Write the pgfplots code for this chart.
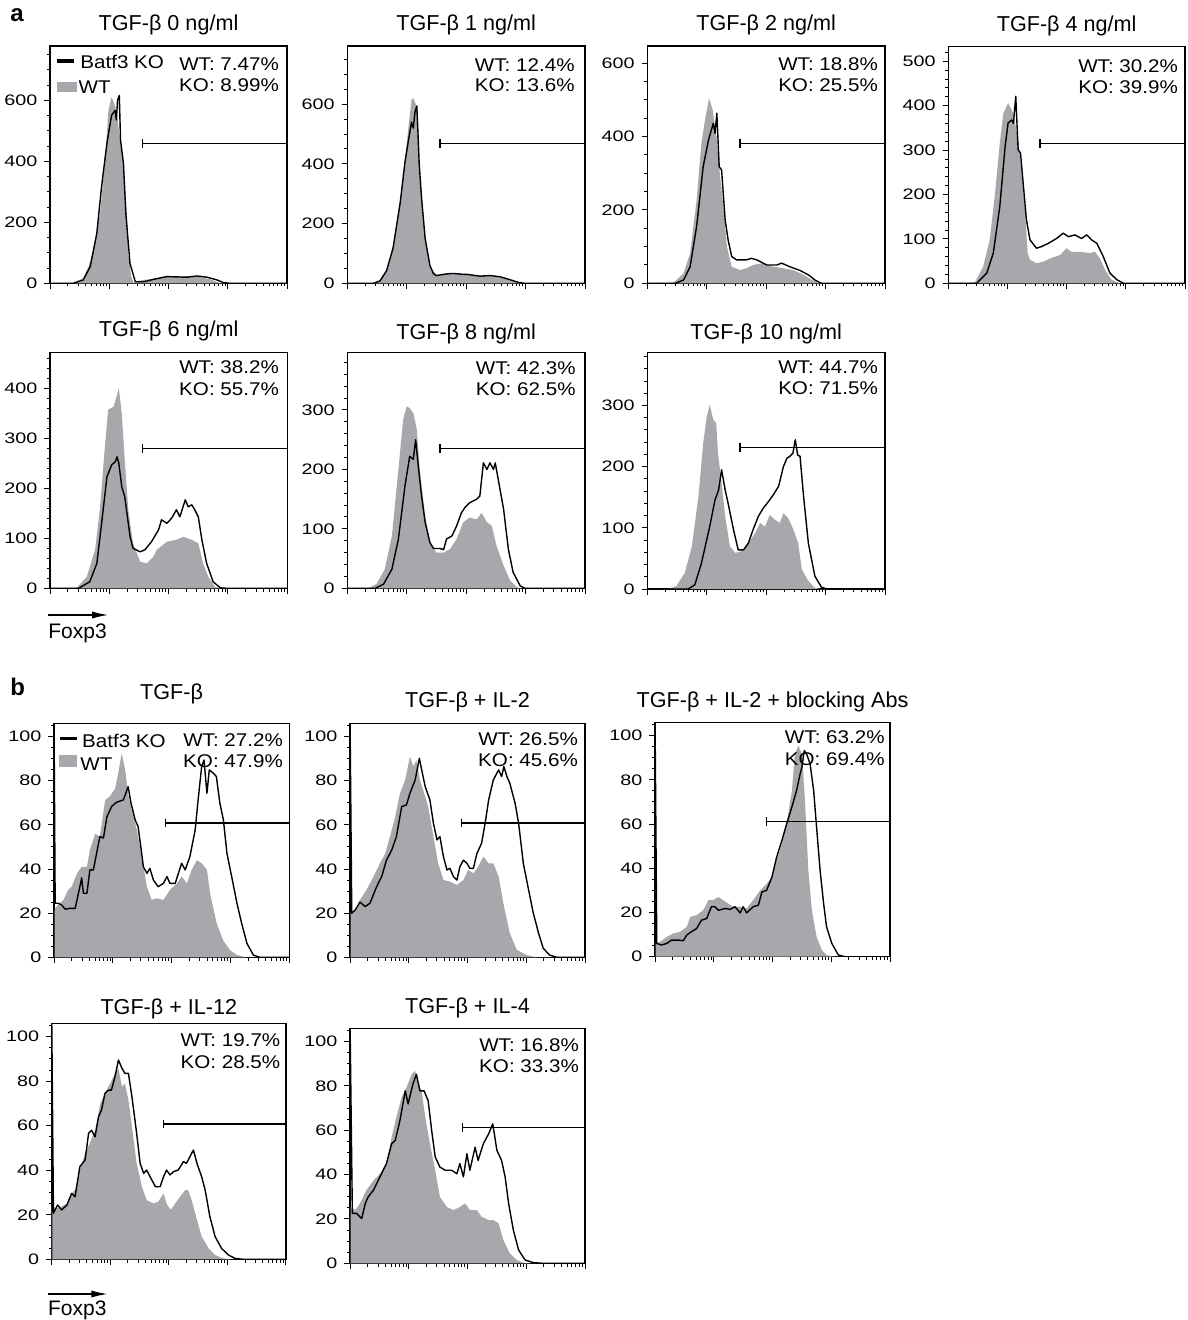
\documentclass[border=0pt]{standalone}
\usepackage{fontspec}
\setmainfont{Liberation Sans}
\newfontfamily\tickfont[FakeStretch=1.3]{Liberation Sans}
\newfontfamily\annfont[FakeStretch=1.12]{Liberation Sans}
\usepackage{pgfplots}
\pgfplotsset{compat=1.18}
\usetikzlibrary{arrows.meta}
\definecolor{wtgray}{RGB}{166,168,171}
\pgfplotsset{
 fc/.style={
  scale only axis, xmin=0, xmax=4, ymin=0,
  axis line style={line width=0.55pt},
  tick align=outside, xtick pos=left, ytick pos=left,
  xtick={0,1,2,3,4}, xticklabels={},
  minor xtick={0.301,0.477,0.602,0.699,0.778,0.845,0.903,0.954,1.301,1.477,1.602,1.699,1.778,1.845,1.903,1.954,2.301,2.477,2.602,2.699,2.778,2.845,2.903,2.954,3.301,3.477,3.602,3.699,3.778,3.845,3.903,3.954},
  major tick length=2.8pt, minor tick length=1.6pt,
  every tick/.style={black, line width=0.5pt},
  tick label style={font=\tickfont\fontsize{7.6}{8.5}\selectfont},
  /pgf/number format/assume math mode=true,
  every axis title/.style={at={(0.5,1)}, anchor=base, font=\fontsize{10.8}{12}\selectfont},
 },
 ya/.style={ytick={0,200,400,600}, minor ytick={0,50,...,750}},
 yb/.style={ymax=106, ytick={0,20,...,100}, minor ytick={0,5,...,105}},
 wt/.style={fill=wtgray, draw=none, forget plot},
 ko/.style={black, line width=0.7pt, line join=round, forget plot},
 gate/.style={black, line width=0.65pt, mark=|, mark size=2.2pt, mark options={solid, line width=0.65pt}, forget plot},
}
\newcommand{\af}{\annfont\fontsize{9.2}{11}\selectfont}
\begin{document}
\begin{tikzpicture}
\useasboundingbox (0,0) rectangle (593.5pt,-660pt);
\node[anchor=base west, inner sep=0pt, font=\bfseries\fontsize{12}{14}\selectfont] at (5pt,-11pt) {a};
\node[anchor=base west, inner sep=0pt, font=\bfseries\fontsize{12}{14}\selectfont] at (5pt,-347.5pt) {b};

% ---------- a1
\begin{axis}[fc, ya, at={(25pt,-141.65pt)}, width=118.5pt, height=118.65pt, ymax=778,
  title={TGF-β 0 ng/ml}, title style={yshift=7.7pt}]
\addplot[wt] coordinates {(0,0) (0.39,2) (0.56,16) (0.65,55) (0.73,109) (0.845,229) (0.93,404) (0.986,567) (1.04,611) (1.08,590) (1.13,556) (1.18,469) (1.24,382) (1.30,218) (1.32,98) (1.37,22) (1.41,2) (1.5,8) (1.58,11) (1.80,16) (2.03,24) (2.31,22) (2.54,20) (2.70,13) (2.85,2) (2.93,0) (4,0)} \closedcycle;
\addplot[ko] coordinates {(0,0) (0.39,0) (0.56,11) (0.68,55) (0.79,164) (0.87,316) (0.96,458) (1.04,551) (1.10,567) (1.12,535) (1.14,600) (1.17,616) (1.19,469) (1.24,393) (1.28,229) (1.35,65) (1.44,5) (1.58,5) (1.75,13) (1.97,22) (2.31,20) (2.48,24) (2.65,20) (2.82,11) (2.93,2) (3.04,0) (4,0)};
\addplot[gate] coordinates {(1.565,459) (4,459)};
\draw[line width=1.8pt] ([xshift=3.35pt,yshift=-7.5pt]rel axis cs:0,1) -- ([xshift=12pt,yshift=-7.5pt]rel axis cs:0,1);
\fill[wtgray] ([xshift=3.35pt,yshift=-17.85pt]rel axis cs:0,1) rectangle ([xshift=13.35pt,yshift=-22.85pt]rel axis cs:0,1);
\node[anchor=base west, inner sep=0pt, font=\af] at ([xshift=15pt,yshift=-11.2pt]rel axis cs:0,1) {Batf3 KO};
\node[anchor=base west, inner sep=0pt, font=\af] at ([xshift=14.15pt,yshift=-24pt]rel axis cs:0,1) {WT};
\node[anchor=base east, inner sep=0pt, font=\af] at ([xshift=-3.85pt,yshift=-12.5pt]rel axis cs:1,1) {WT: 7.47\%};
\node[anchor=base east, inner sep=0pt, font=\af] at ([xshift=-3.85pt,yshift=-22.85pt]rel axis cs:1,1) {KO: 8.99\%};
\end{axis}

% ---------- a2
\begin{axis}[fc, ya, at={(173.65pt,-141.65pt)}, width=118.85pt, height=118.65pt, ymax=795,
  title={TGF-β 1 ng/ml}, title style={yshift=7.7pt}]
\addplot[wt] coordinates {(0,0) (0.44,0) (0.55,10) (0.66,45) (0.77,123) (0.89,279) (0.97,413) (1.03,525) (1.08,615) (1.11,620) (1.17,592) (1.21,391) (1.25,279) (1.31,145) (1.39,56) (1.50,28) (1.62,28) (1.78,34) (2.01,31) (2.23,25) (2.40,25) (2.57,20) (2.74,11) (2.88,2) (2.96,0) (4,0)} \closedcycle;
\addplot[ko] coordinates {(0,0) (0.44,0) (0.55,8) (0.66,42) (0.77,118) (0.89,270) (0.97,405) (1.03,480) (1.08,540) (1.11,520) (1.14,575) (1.17,594) (1.19,500) (1.21,400) (1.25,285) (1.31,150) (1.39,60) (1.45,32) (1.50,26) (1.62,30) (1.70,32) (1.78,33) (1.95,30) (2.01,30) (2.23,24) (2.40,26) (2.57,22) (2.74,12) (2.88,3) (2.98,0) (4,0)};
\addplot[gate] coordinates {(1.56,469) (4,469)};
\node[anchor=base east, inner sep=0pt, font=\af] at ([xshift=-5pt,yshift=-12.85pt]rel axis cs:1,1) {WT: 12.4\%};
\node[anchor=base east, inner sep=0pt, font=\af] at ([xshift=-5pt,yshift=-22.85pt]rel axis cs:1,1) {KO: 13.6\%};
\end{axis}

% ---------- a3
\begin{axis}[fc, ytick={0,200,400,600}, minor ytick={0,50,...,600}, at={(323.65pt,-141.65pt)}, width=118.85pt, height=118.65pt, ymax=647,
  title={TGF-β 2 ng/ml}, title style={yshift=7.7pt}]
\addplot[wt] coordinates {(0,0) (0.44,2) (0.61,27) (0.72,82) (0.83,227) (0.91,382) (0.97,445) (1.04,505) (1.10,473) (1.17,391) (1.22,300) (1.28,209) (1.34,100) (1.42,45) (1.56,36) (1.67,41) (1.78,50) (1.95,55) (2.12,45) (2.29,41) (2.46,36) (2.63,23) (2.77,9) (2.88,2) (2.93,0) (4,0)} \closedcycle;
\addplot[ko] coordinates {(0,0) (0.47,0) (0.61,9) (0.72,45) (0.83,155) (0.94,318) (1.03,391) (1.11,436) (1.14,409) (1.17,464) (1.21,318) (1.25,309) (1.31,173) (1.36,118) (1.42,73) (1.50,64) (1.67,64) (1.75,68) (1.84,64) (2.01,50) (2.18,50) (2.26,55) (2.40,45) (2.57,35) (2.71,23) (2.82,9) (2.93,0) (4,0)};
\addplot[gate] coordinates {(1.56,382) (4,382)};
\node[anchor=base east, inner sep=0pt, font=\af] at ([xshift=-3.35pt,yshift=-12.5pt]rel axis cs:1,1) {WT: 18.8\%};
\node[anchor=base east, inner sep=0pt, font=\af] at ([xshift=-3.35pt,yshift=-22.85pt]rel axis cs:1,1) {KO: 25.5\%};
\end{axis}

% ---------- a4
\begin{axis}[fc, ytick={0,100,...,500}, minor ytick={0,20,...,520}, at={(474.15pt,-141.65pt)}, width=118.35pt, height=118.3pt, ymax=533,
  title={TGF-β 4 ng/ml}, title style={yshift=7.5pt}]
\addplot[wt] coordinates {(0,0) (0.45,2) (0.59,38) (0.70,98) (0.79,203) (0.87,316) (0.93,383) (1.01,406) (1.10,383) (1.18,323) (1.24,248) (1.30,158) (1.34,68) (1.38,53) (1.49,45) (1.61,49) (1.72,56) (1.89,64) (2.00,79) (2.08,71) (2.23,71) (2.39,68) (2.48,71) (2.56,56) (2.65,30) (2.76,8) (2.90,0) (4,0)} \closedcycle;
\addplot[ko] coordinates {(0,0) (0.48,0) (0.65,23) (0.76,68) (0.87,173) (0.96,308) (1.01,361) (1.07,368) (1.10,360) (1.14,421) (1.18,301) (1.22,293) (1.27,218) (1.32,143) (1.38,98) (1.49,79) (1.58,83) (1.69,90) (1.83,101) (1.94,113) (2.03,105) (2.14,109) (2.25,101) (2.34,109) (2.42,98) (2.51,90) (2.62,60) (2.73,23) (2.85,8) (2.96,0) (4,0)};
\addplot[gate] coordinates {(1.55,315) (4,315)};
\node[anchor=base east, inner sep=0pt, font=\af] at ([xshift=-3.35pt,yshift=-13pt]rel axis cs:1,1) {WT: 30.2\%};
\node[anchor=base east, inner sep=0pt, font=\af] at ([xshift=-3.35pt,yshift=-23.3pt]rel axis cs:1,1) {KO: 39.9\%};
\end{axis}

% ---------- a5
\begin{axis}[fc, ytick={0,100,...,400}, minor ytick={0,20,...,460}, at={(25pt,-294.15pt)}, width=118.65pt, height=118pt, ymax=472,
  title={TGF-β 6 ng/ml}, title style={yshift=7.8pt}]
\addplot[wt] coordinates {(0,0) (0.45,1) (0.62,23) (0.76,77) (0.84,157) (0.93,290) (0.98,357) (1.07,363) (1.12,383) (1.16,400) (1.21,350) (1.26,257) (1.32,157) (1.40,90) (1.52,53) (1.63,50) (1.74,63) (1.80,77) (1.97,93) (2.13,97) (2.25,103) (2.39,97) (2.50,90) (2.58,50) (2.67,23) (2.78,3) (2.87,0) (4,0)} \closedcycle;
\addplot[ko] coordinates {(0,0) (0.48,0) (0.67,13) (0.79,50) (0.87,130) (0.96,223) (1.04,247) (1.10,253) (1.13,263) (1.16,250) (1.21,203) (1.26,183) (1.35,103) (1.40,80) (1.52,73) (1.60,77) (1.71,93) (1.83,117) (1.88,137) (1.97,130) (2.05,140) (2.13,157) (2.19,143) (2.28,177) (2.33,163) (2.39,167) (2.44,157) (2.50,143) (2.56,97) (2.64,50) (2.75,13) (2.87,1) (2.98,0) (4,0)};
\addplot[gate] coordinates {(1.565,280) (4,280)};
\node[anchor=base east, inner sep=0pt, font=\af] at ([xshift=-4pt,yshift=-10.85pt]rel axis cs:1,1) {WT: 38.2\%};
\node[anchor=base east, inner sep=0pt, font=\af] at ([xshift=-4pt,yshift=-21.35pt]rel axis cs:1,1) {KO: 55.7\%};
\end{axis}

% ---------- a6
\begin{axis}[fc, ytick={0,100,200,300}, minor ytick={0,20,...,380}, at={(173.65pt,-294.15pt)}, width=118.85pt, height=118pt, ymax=397,
  title={TGF-β 8 ng/ml}, title style={yshift=6.5pt}]
\addplot[wt] coordinates {(0,0) (0.35,0) (0.49,7) (0.63,32) (0.75,88) (0.86,200) (0.94,284) (1.00,306) (1.05,303) (1.11,295) (1.17,267) (1.22,200) (1.31,122) (1.39,77) (1.50,60) (1.62,60) (1.73,66) (1.84,83) (1.95,111) (2.06,119) (2.18,116) (2.26,127) (2.35,111) (2.43,105) (2.51,72) (2.63,38) (2.74,13) (2.85,2) (2.93,0) (4,0)} \closedcycle;
\addplot[ko] coordinates {(0,0) (0.47,0) (0.61,7) (0.75,32) (0.86,83) (0.97,172) (1.05,222) (1.11,217) (1.15,250) (1.20,200) (1.25,155) (1.31,111) (1.39,77) (1.45,67) (1.56,67) (1.62,65) (1.67,83) (1.76,88) (1.84,105) (1.92,127) (1.98,136) (2.06,144) (2.18,150) (2.23,155) (2.29,211) (2.35,200) (2.40,211) (2.46,200) (2.49,211) (2.54,183) (2.63,133) (2.71,66) (2.79,27) (2.91,4) (2.99,0) (4,0)};
\addplot[gate] coordinates {(1.56,235) (4,235)};
\node[anchor=base east, inner sep=0pt, font=\af] at ([xshift=-4.5pt,yshift=-10.85pt]rel axis cs:1,1) {WT: 42.3\%};
\node[anchor=base east, inner sep=0pt, font=\af] at ([xshift=-4.5pt,yshift=-21.35pt]rel axis cs:1,1) {KO: 62.5\%};
\end{axis}

% ---------- a7
\begin{axis}[fc, ytick={0,100,200,300}, minor ytick={0,20,...,380}, at={(323.65pt,-294.5pt)}, width=118.85pt, height=118.35pt, ymax=387,
  title={TGF-β 10 ng/ml}, title style={yshift=6.5pt}]
\addplot[wt] coordinates {(0,0) (0.35,0) (0.49,5) (0.63,26) (0.75,70) (0.86,151) (0.94,238) (1.00,282) (1.05,301) (1.11,277) (1.16,271) (1.19,222) (1.25,173) (1.31,119) (1.39,70) (1.48,59) (1.59,62) (1.70,75) (1.81,91) (1.90,108) (1.98,102) (2.06,121) (2.15,113) (2.23,108) (2.29,124) (2.37,116) (2.46,97) (2.54,75) (2.60,32) (2.71,13) (2.82,2) (2.91,0) (4,0)} \closedcycle;
\addplot[ko] coordinates {(0,0) (0.69,0) (0.80,7) (0.91,42) (1.05,102) (1.14,146) (1.20,162) (1.25,195) (1.31,162) (1.36,140) (1.45,97) (1.53,64) (1.62,64) (1.70,75) (1.78,97) (1.87,119) (1.95,132) (2.04,143) (2.12,154) (2.21,168) (2.29,200) (2.35,214) (2.40,217) (2.45,222) (2.49,244) (2.53,219) (2.57,217) (2.63,151) (2.71,75) (2.82,21) (2.93,3) (3.02,0) (4,0)};
\addplot[gate] coordinates {(1.56,231) (4,231)};
\node[anchor=base east, inner sep=0pt, font=\af] at ([xshift=-3.35pt,yshift=-10.85pt]rel axis cs:1,1) {WT: 44.7\%};
\node[anchor=base east, inner sep=0pt, font=\af] at ([xshift=-3.35pt,yshift=-21.35pt]rel axis cs:1,1) {KO: 71.5\%};
\end{axis}

\draw[line width=0.6pt, -{Latex[length=8pt,width=3.6pt]}] (24pt,-307.5pt) -- (54pt,-307.5pt);
\node[anchor=base west, inner sep=0pt, font=\fontsize{10.5}{12}\selectfont] at (24pt,-319.15pt) {Foxp3};

% ---------- b1
\begin{axis}[fc, yb, at={(27pt,-478.65pt)}, width=117.65pt, height=117pt,
  title={TGF-β}, title style={yshift=11.7pt}]
\addplot[wt] coordinates {(0,0) (0,21.5) (0.07,23.7) (0.16,26) (0.24,30.5) (0.30,32) (0.39,38) (0.47,41) (0.56,41) (0.61,48.6) (0.70,56) (0.78,54.7) (0.87,71.3) (0.95,72.8) (1.04,76.6) (1.09,83) (1.15,92.4) (1.21,85) (1.26,74) (1.32,66.8) (1.41,57.7) (1.49,45.6) (1.58,32) (1.66,26) (1.75,26.7) (1.86,26) (1.97,30.5) (2.09,33.5) (2.17,36.6) (2.26,33.5) (2.34,39.6) (2.43,44) (2.51,42.6) (2.60,39.6) (2.66,28) (2.77,15) (2.88,7.5) (2.99,3.3) (3.10,1.2) (3.25,0) (4,0)} \closedcycle;
\addplot[ko] coordinates {(0,0) (0,110) (0.02,24.5) (0.07,24.5) (0.13,23.7) (0.19,21.8) (0.27,22.2) (0.36,22.2) (0.44,32) (0.47,36) (0.50,29) (0.56,29) (0.61,39.6) (0.67,39.6) (0.73,47.9) (0.78,54.7) (0.84,54) (0.90,63.7) (0.98,68.3) (1.04,69.8) (1.09,70.5) (1.18,71.3) (1.26,77.3) (1.31,69.8) (1.38,62.2) (1.43,59.2) (1.52,41) (1.58,38) (1.63,40.3) (1.69,35) (1.77,32) (1.86,33.5) (1.92,36.6) (1.97,33.5) (2.06,33.5) (2.17,42.6) (2.23,39.6) (2.31,45.6) (2.40,57.7) (2.45,71.3) (2.51,86.4) (2.55,89.4) (2.60,74.3) (2.64,84.9) (2.71,83.4) (2.76,81.9) (2.82,69.8) (2.88,62.2) (2.94,47.1) (3.02,36.6) (3.11,24.5) (3.19,15.4) (3.28,6.3) (3.39,1) (3.50,0) (4,0)};
\addplot[gate] coordinates {(1.90,60.8) (4,60.8)};
\draw[line width=1.8pt] ([xshift=3pt,yshift=-7.5pt]rel axis cs:0,1) -- ([xshift=11.65pt,yshift=-7.5pt]rel axis cs:0,1);
\fill[wtgray] ([xshift=2.65pt,yshift=-15.85pt]rel axis cs:0,1) rectangle ([xshift=11.65pt,yshift=-21.7pt]rel axis cs:0,1);
\node[anchor=base west, inner sep=0pt, font=\af] at ([xshift=13.85pt,yshift=-12pt]rel axis cs:0,1) {Batf3 KO};
\node[anchor=base west, inner sep=0pt, font=\af] at ([xshift=13pt,yshift=-23.35pt]rel axis cs:0,1) {WT};
\node[anchor=base east, inner sep=0pt, font=\af] at ([xshift=-3pt,yshift=-11.65pt]rel axis cs:1,1) {WT: 27.2\%};
\node[anchor=base east, inner sep=0pt, font=\af] at ([xshift=-3pt,yshift=-22pt]rel axis cs:1,1) {KO: 47.9\%};
\end{axis}

% ---------- b2
\begin{axis}[fc, yb, at={(175pt,-478.65pt)}, width=117.5pt, height=117pt,
  title={TGF-β + IL-2}, title style={yshift=8pt}]
\addplot[wt] coordinates {(0,0) (0,20) (0.09,21.5) (0.17,26) (0.28,30.5) (0.40,36.6) (0.51,42.6) (0.60,47) (0.68,54.7) (0.77,63.7) (0.85,74.3) (0.94,80.4) (1.02,91) (1.08,86.4) (1.13,89.4) (1.19,80.4) (1.28,72.8) (1.33,68.3) (1.42,54.7) (1.50,42.6) (1.59,35) (1.70,34.3) (1.82,32.8) (1.93,35) (2.01,39.6) (2.10,38) (2.18,41) (2.27,45.6) (2.36,42.6) (2.44,42.6) (2.53,36.6) (2.61,24.5) (2.72,10.9) (2.84,3.3) (3.01,1) (3.18,0) (4,0)} \closedcycle;
\addplot[ko] coordinates {(0,0) (0,110) (0.03,20) (0.09,21.5) (0.17,25) (0.26,23) (0.34,24.5) (0.43,30.5) (0.48,33.5) (0.54,36.6) (0.62,44) (0.71,48.6) (0.79,54.7) (0.88,68.3) (0.96,69) (1.02,74.3) (1.11,80.4) (1.18,90.2) (1.22,84.9) (1.28,77.3) (1.36,71.3) (1.42,60.7) (1.48,53.2) (1.53,54.7) (1.59,45.6) (1.65,39.6) (1.70,40.3) (1.76,36.6) (1.82,35) (1.87,41) (1.93,44) (1.99,42.6) (2.04,40.3) (2.10,40.3) (2.16,47) (2.24,51.7) (2.30,60.7) (2.36,71.3) (2.44,80.4) (2.53,84.9) (2.58,81.9) (2.62,86.4) (2.67,81.9) (2.72,78.9) (2.81,69.8) (2.87,60.7) (2.95,42.6) (3.04,30.5) (3.12,20) (3.21,10.9) (3.29,4) (3.40,1) (3.52,0) (4,0)};
\addplot[gate] coordinates {(1.90,60.8) (4,60.8)};
\node[anchor=base east, inner sep=0pt, font=\af] at ([xshift=-3.35pt,yshift=-10.85pt]rel axis cs:1,1) {WT: 26.5\%};
\node[anchor=base east, inner sep=0pt, font=\af] at ([xshift=-3.35pt,yshift=-21.65pt]rel axis cs:1,1) {KO: 45.6\%};
\end{axis}

% ---------- b3
\begin{axis}[fc, yb, at={(327.5pt,-478.35pt)}, width=117.5pt, height=117.2pt,
  title={TGF-β + IL-2 + blocking Abs}, title style={yshift=7.2pt}]
\addplot[wt] coordinates {(0,0) (0,6) (0.09,6.8) (0.20,9) (0.31,10.5) (0.43,11.3) (0.54,13.5) (0.60,18) (0.71,18.8) (0.82,21) (0.91,25.6) (0.99,25.6) (1.08,27) (1.16,25.6) (1.25,24) (1.33,22.6) (1.45,22.6) (1.56,21.8) (1.67,25.6) (1.79,30) (1.90,33) (1.99,36) (2.07,43.6) (2.16,51) (2.24,60) (2.33,75) (2.38,91.7) (2.44,95.5) (2.50,91.7) (2.55,72) (2.61,39) (2.67,21) (2.75,9) (2.84,3) (2.92,0.8) (3.04,0) (4,0)} \closedcycle;
\addplot[ko] coordinates {(0,0) (0,110) (0.03,6) (0.11,5.3) (0.20,6) (0.28,7.5) (0.40,7.5) (0.48,7.2) (0.54,9.8) (0.62,11.3) (0.71,12.8) (0.79,16.5) (0.88,17.3) (0.96,22.6) (1.02,22.6) (1.08,21) (1.19,21.8) (1.28,21.4) (1.36,22.6) (1.45,19.8) (1.50,22.6) (1.56,19.8) (1.67,22.6) (1.76,23.3) (1.82,29.3) (1.90,30) (1.99,36) (2.07,45) (2.16,52.6) (2.24,60) (2.33,67.7) (2.41,75.2) (2.47,82.7) (2.50,85.7) (2.54,93.2) (2.58,91.7) (2.64,87.2) (2.70,75.2) (2.75,58.6) (2.81,39) (2.87,24) (2.92,13.5) (3.01,6) (3.12,0.8) (3.23,0) (4,0)};
\addplot[gate] coordinates {(1.90,61.2) (4,61.2)};
\node[anchor=base east, inner sep=0pt, font=\af] at ([xshift=-2.5pt,yshift=-10.5pt]rel axis cs:1,1) {WT: 63.2\%};
\node[anchor=base east, inner sep=0pt, font=\af] at ([xshift=-2.5pt,yshift=-21.35pt]rel axis cs:1,1) {KO: 69.4\%};
\end{axis}

% ---------- b4
\begin{axis}[fc, yb, at={(25.85pt,-629.65pt)}, width=117.15pt, height=118pt,
  title={TGF-β + IL-12}, title style={yshift=4.2pt}]
\addplot[wt] coordinates {(0,0) (0,23.7) (0.09,22.9) (0.17,23.7) (0.26,25.1) (0.34,29.6) (0.40,31.1) (0.48,40.1) (0.57,47.6) (0.65,52.1) (0.74,58) (0.83,70) (0.91,74.6) (1.00,79) (1.08,83.5) (1.14,85.8) (1.20,77.5) (1.25,79) (1.31,71.6) (1.37,59.6) (1.45,43.1) (1.54,32.6) (1.62,26.6) (1.74,25.1) (1.82,25.9) (1.91,29.6) (1.96,25.1) (2.03,22.2) (2.11,25.1) (2.19,28.1) (2.28,31.1) (2.33,31.1) (2.39,26.6) (2.48,17.7) (2.56,10.2) (2.68,4.9) (2.79,1.9) (2.93,0.4) (3.05,0) (4,0)} \closedcycle;
\addplot[ko] coordinates {(0,0) (0,110) (0.03,20.7) (0.10,24.4) (0.17,22.2) (0.26,24.4) (0.34,29.6) (0.40,28.1) (0.48,41.6) (0.57,44.6) (0.63,56.6) (0.68,58) (0.74,55) (0.80,64) (0.85,67) (0.91,74.6) (0.97,76) (1.02,76) (1.08,82) (1.14,89.5) (1.20,85.8) (1.25,83.5) (1.31,83.5) (1.37,73) (1.45,56.6) (1.51,43.1) (1.57,38.6) (1.62,40.1) (1.68,37.1) (1.77,32.6) (1.85,32.6) (1.91,37.1) (1.96,40.1) (2.02,37.9) (2.08,39.4) (2.16,40.1) (2.25,43.9) (2.30,43.1) (2.36,46.1) (2.42,49.1) (2.48,43.1) (2.56,37.1) (2.62,31.1) (2.70,19.2) (2.79,10.2) (2.90,4.9) (3.02,1.9) (3.13,0.4) (3.27,0) (4,0)};
\addplot[gate] coordinates {(1.905,60.8) (4,60.8)};
\node[anchor=base east, inner sep=0pt, font=\af] at ([xshift=-2.65pt,yshift=-11.65pt]rel axis cs:1,1) {WT: 19.7\%};
\node[anchor=base east, inner sep=0pt, font=\af] at ([xshift=-2.65pt,yshift=-22.5pt]rel axis cs:1,1) {KO: 28.5\%};
\end{axis}

% ---------- b5
\begin{axis}[fc, yb, at={(175pt,-631.65pt)}, width=117.5pt, height=117.5pt,
  title={TGF-β + IL-4}, title style={yshift=7.5pt}]
\addplot[wt] coordinates {(0,0) (0,25.4) (0.09,24) (0.17,27) (0.28,33) (0.40,37.4) (0.51,40.4) (0.62,45) (0.71,57) (0.79,66) (0.88,74.9) (0.96,79.3) (1.05,85.3) (1.11,86.8) (1.16,80.8) (1.22,77.8) (1.28,66) (1.36,54) (1.45,42) (1.53,30) (1.65,25.4) (1.76,24) (1.87,25.4) (1.96,27) (2.04,24) (2.16,24) (2.24,21) (2.36,19.5) (2.44,19.5) (2.53,18) (2.61,10.5) (2.72,4.5) (2.84,1.5) (2.95,0.3) (3.06,0) (4,0)} \closedcycle;
\addplot[ko] coordinates {(0,0) (0,110) (0.04,22.5) (0.11,22.5) (0.20,20.2) (0.26,27) (0.31,30) (0.40,33) (0.51,39) (0.62,45) (0.71,54) (0.77,55.4) (0.85,64.4) (0.94,77.8) (0.99,71.9) (1.07,80.8) (1.13,85.3) (1.19,77.8) (1.26,77.8) (1.33,73.4) (1.39,59.9) (1.45,48) (1.53,43.4) (1.62,42) (1.73,42) (1.82,40.4) (1.87,45) (1.93,39) (1.99,49.4) (2.04,42) (2.13,52.4) (2.18,46.4) (2.27,54) (2.36,58.4) (2.43,62.9) (2.50,51) (2.58,46.4) (2.64,39) (2.70,27) (2.78,15) (2.87,6) (2.98,1.5) (3.12,0.3) (3.29,0) (4,0)};
\addplot[gate] coordinates {(1.91,61.4) (4,61.4)};
\node[anchor=base east, inner sep=0pt, font=\af] at ([xshift=-2.85pt,yshift=-11.65pt]rel axis cs:1,1) {WT: 16.8\%};
\node[anchor=base east, inner sep=0pt, font=\af] at ([xshift=-2.85pt,yshift=-22.15pt]rel axis cs:1,1) {KO: 33.3\%};
\end{axis}

\draw[line width=0.6pt, -{Latex[length=8pt,width=3.6pt]}] (23.85pt,-647pt) -- (53.65pt,-647pt);
\node[anchor=base west, inner sep=0pt, font=\fontsize{10.5}{12}\selectfont] at (23.85pt,-657.6pt) {Foxp3};
\end{tikzpicture}
\end{document}
